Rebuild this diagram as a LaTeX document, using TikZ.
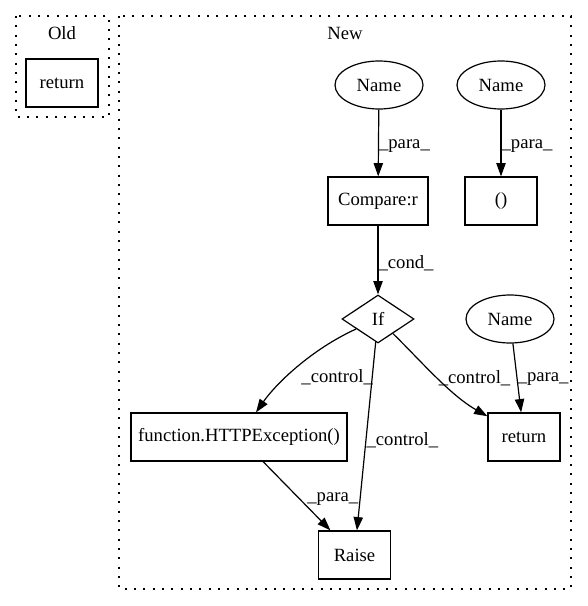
\documentclass[tikz,border=0pt]{standalone}
\usepackage{fontspec}
\setmainfont{Liberation Serif}
\usepackage{tikz}
\usetikzlibrary{arrows.meta,shapes.geometric}

\tikzset{
  box/.style={draw, rectangle, line width=0.9pt, minimum width=54pt, minimum height=36pt, inner sep=0pt},
  ell/.style={draw, ellipse, line width=0.9pt, minimum width=66pt, minimum height=36pt, inner sep=0pt},
  dia/.style={draw, diamond, line width=0.9pt, minimum width=54pt, minimum height=36pt, inner sep=0pt},
  edge/.style={line width=0.9pt, -{Triangle[length=10pt,width=7pt]}},
  lbl/.style={anchor=west, inner sep=0pt},
  cluster/.style={line width=1pt, dash pattern=on 1.5pt off 5.5pt}
}

\begin{document}
\begin{tikzpicture}[x=0.75pt, y=-0.75pt, font=\fontsize{14}{17}\selectfont]
    \useasboundingbox (0,0) rectangle (587,606);

    % draw clusters
    \draw[cluster] (16,16) rectangle (109,117);
    \draw[cluster] (119,16) rectangle (571,589);
    \node (old) at (62,33) {Old};
    \node (new) at (345,33) {New};

    % draw nodes
    \node[box] (oldret) at (62,83) {return};
    \node[ell] (name1) at (379,85) {Name};
    \node[ell] (name2) at (501,85) {Name};
    \node[box, minimum width=75pt] (cmp) at (378,201) {Compare:r};
    \node[box] (paren) at (501,201) {()};
    \node[dia] (if) at (378,319) {If};
    \node[ell] (name3) at (510,319) {Name};
    \node[box, minimum width=162pt] (http) at (239,437) {function.HTTPException()};
    \node[box] (ret) at (524,437) {return};
    \node[box] (raise) at (354.5,555) {Raise};

    % draw edges
    \draw[edge] (name1) -- node[lbl, pos=0.55] {\_para\_} (cmp);
    \draw[edge] (name2) -- node[lbl, pos=0.55] {\_para\_} (paren);
    \draw[edge] (cmp) -- node[lbl, pos=0.55] {\_cond\_} (if);
    \draw[edge] (if) .. controls (310,350) and (275,385) .. node[lbl, pos=0.6, xshift=11pt] {\_control\_} (http);
    \draw[edge] (if) -- node[lbl, pos=0.52] {\_control\_} (raise);
    \draw[edge] (if) .. controls (420,360) and (450,395) .. node[lbl, pos=0.52] {\_control\_} (ret);
    \draw[edge] (name3) -- node[lbl, pos=0.52] {\_para\_} (ret);
    \draw[edge] (http) -- node[lbl, pos=0.55, xshift=5pt] {\_para\_} (raise);
  \end{tikzpicture}
\end{document}
